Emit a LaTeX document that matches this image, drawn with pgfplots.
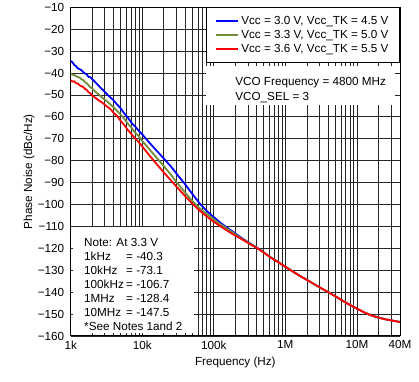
\documentclass[border=0pt]{standalone}
\usepackage{pgfplots}
\usepackage{pgfplotstable}
\pgfplotsset{compat=1.18}
\usepackage{fontspec}
\setmainfont{Liberation Sans}
\definecolor{vblue}{RGB}{0,0,255}
\definecolor{vgreen}{RGB}{112,140,60}
\definecolor{vred}{RGB}{255,0,0}

\pgfplotstableread{
f b g r
1000 -34.5 -40.2 -43.3
1059 -35.1 -40.8 -43.9
1122 -36.3 -40.9 -43.8
1189 -36.9 -41.4 -44.6
1259 -37.9 -41.8 -44.8
1334 -38.2 -42.1 -45.6
1413 -38.7 -42.8 -46.1
1496 -39.6 -43.2 -46.3
1585 -40.2 -44.2 -47.3
1679 -40.6 -44.7 -47.7
1778 -41.8 -45.6 -48.8
1884 -41.9 -46.5 -49.2
1995 -42.7 -47.1 -50.3
2239 -44.4 -48.7 -51.4
2512 -46.1 -50.0 -52.7
2818 -47.7 -51.5 -53.7
3162 -49.4 -52.7 -55.1
3548 -51.0 -54.2 -56.3
3981 -52.5 -55.6 -58.1
4467 -54.4 -57.3 -59.7
5012 -56.2 -59.0 -61.9
5623 -58.5 -61.0 -63.8
6310 -60.4 -63.1 -66.1
7079 -62.7 -65.0 -67.9
7943 -64.4 -67.1 -69.9
8913 -66.3 -68.8 -71.5
10000 -68.0 -71.0 -73.5
12589 -71.8 -74.8 -77.6
15849 -75.4 -78.6 -81.5
19953 -79.0 -82.4 -85.3
25119 -82.6 -86.4 -89.0
31623 -86.8 -90.6 -92.6
39811 -90.8 -94.6 -96.2
50119 -95.2 -98.4 -99.6
63096 -99.4 -101.6 -102.7
79433 -102.9 -104.3 -105.4
100000 -105.8 -106.8 -107.9
125893 -108.5 -109.1 -110.1
158489 -110.9 -111.4 -112.2
199526 -113.2 -113.6 -114.2
251189 -115.5 -115.7 -116.0
316228 -117.6 -117.8 -118.0
398107 -119.6 -119.7 -119.8
501187 -121.9 -121.9 -122.0
630957 -124.2 -124.3 -124.3
794328 -126.3 -126.3 -126.3
1000000 -128.4 -128.4 -128.4
1258925 -130.5 -130.5 -130.5
1584893 -132.5 -132.5 -132.5
1995262 -134.4 -134.4 -134.4
2511886 -136.3 -136.3 -136.3
3162278 -138.2 -138.2 -138.2
3981072 -140.0 -140.0 -140.0
5011872 -141.9 -141.9 -141.9
6309573 -143.9 -143.9 -143.9
7943282 -145.8 -145.8 -145.8
10000000 -147.5 -147.5 -147.5
12589254 -149.2 -149.2 -149.2
15848932 -150.6 -150.6 -150.6
19952623 -151.6 -151.6 -151.6
25118864 -152.4 -152.4 -152.4
31622777 -153.0 -153.0 -153.0
40000000 -153.6 -153.6 -153.6
}\datatable

\begin{document}
\begin{tikzpicture}
\begin{axis}[
  scale only axis, width=329.3pt, height=328.7pt,
  xmode=log, xmin=1000, xmax=40000000, ymin=-160, ymax=-10,
  xtick={1000,10000,100000,1000000,10000000,40000000},
  xticklabels={1k,10k,100k,1M,10M,40M},
  minor xtick={2000,3000,4000,5000,6000,7000,8000,9000,
    20000,30000,40000,50000,60000,70000,80000,90000,
    200000,300000,400000,500000,600000,700000,800000,900000,
    2000000,3000000,4000000,5000000,6000000,7000000,8000000,9000000,
    20000000,30000000},
  ytick={-160,-150,-140,-130,-120,-110,-100,-90,-80,-70,-60,-50,-40,-30,-20,-10},
  yticklabels={−160,−150,−140,−130,−120,−110,−100,−90,−80,−70,−60,−50,−40,−30,−20,−10},
  minor ytick={},
  grid=both,
  major grid style={black!85, line width=0.8pt},
  minor grid style={black!85, line width=0.8pt},
  major tick length=0pt, minor tick length=0pt,
  axis line style={line width=1pt, black},
  font=\fontsize{11.7}{14}\selectfont,
  /pgf/number format/assume math mode=true,
  yticklabel style={xshift=-3pt},
  xticklabel style={yshift=-1pt},
  xlabel={Frequency (Hz)}, ylabel={Phase Noise (dBc/Hz)},
  xlabel style={at={(axis description cs:0.5,-0.082)}, anchor=center},
  ylabel style={at={(axis description cs:-0.1266,0.5)}, anchor=center},
  legend style={at={(1,1)}, anchor=north east, draw=black, line width=1pt,
    fill=white, inner xsep=9pt, inner ysep=6.5pt, row sep=0.5pt,
    font=\fontsize{11.7}{14}\selectfont},
  legend cell align=left,
  legend image code/.code={\draw[#1, line width=2pt] (0pt,0pt) -- (22pt,0pt);},
]
\fill[white] (rel axis cs:0.007,0.009) rectangle (rel axis cs:0.374,0.332);
\fill[white] (rel axis cs:0.411,0.703) rectangle (rel axis cs:0.985,0.821);

\addplot[vblue, line width=1.8pt] table[x=f, y=b] {\datatable};
\addlegendentry{Vcc = 3.0 V, Vcc\_TK = 4.5 V}
\addplot[vgreen, line width=1.8pt] table[x=f, y=g] {\datatable};
\addlegendentry{Vcc = 3.3 V, Vcc\_TK = 5.0 V}
\addplot[vred, line width=1.8pt] table[x=f, y=r] {\datatable};
\addlegendentry{Vcc = 3.6 V, Vcc\_TK = 5.5 V}

\node[anchor=base west, inner sep=0] at (rel axis cs:0.4995,0.763) {VCO Frequency = 4800 MHz};
\node[anchor=base west, inner sep=0] at (rel axis cs:0.4995,0.717) {VCO\_SEL = 3};

\node[anchor=base west, inner sep=0] at (rel axis cs:0.0404,0.2711) {Note: At 3.3 V};
\node[anchor=base west, inner sep=0] at (rel axis cs:0.0404,0.2285) {\makebox[42pt][l]{1kHz}= -40.3};
\node[anchor=base west, inner sep=0] at (rel axis cs:0.0404,0.1859) {\makebox[42pt][l]{10kHz}= -73.1};
\node[anchor=base west, inner sep=0] at (rel axis cs:0.0404,0.1433) {\makebox[42pt][l]{100kHz}= -106.7};
\node[anchor=base west, inner sep=0] at (rel axis cs:0.0404,0.1007) {\makebox[42pt][l]{1MHz}= -128.4};
\node[anchor=base west, inner sep=0] at (rel axis cs:0.0404,0.0581) {\makebox[42pt][l]{10MHz}= -147.5};
\node[anchor=base west, inner sep=0] at (rel axis cs:0.0404,0.0155) {*See Notes 1and 2};

\node[anchor=center, inner sep=0, font=\fontsize{5}{6}\selectfont] at (rel axis cs:1.017,-0.122) {C016};
\end{axis}
\pgfresetboundingbox
\useasboundingbox ([xshift=-70.7pt,yshift=-46pt]current axis.south west) rectangle ([xshift=19pt,yshift=7.3pt]current axis.north east);
\end{tikzpicture}
\end{document}
